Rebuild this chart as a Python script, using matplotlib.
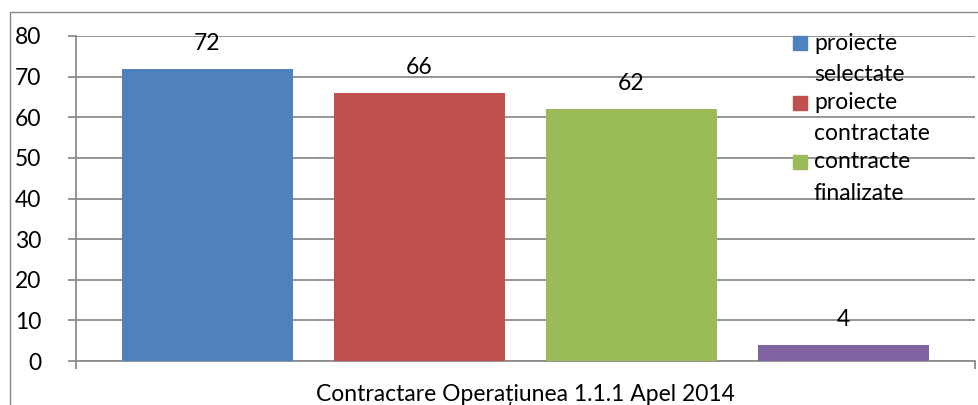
import matplotlib.pyplot as plt

# data
series = ['proiecte\nselectate', 'proiecte\ncontractate', 'contracte\nfinalizate', 'contracte\nin derulare']
values = [72, 66, 62, 4]
colors = ['#4F81BD', '#C0504D', '#9BBB59', '#8064A2']
category = 'Contractare Operațiunea 1.1.1 Apel 2014'

plt.rcParams['font.family'] = ['Lato', 'DejaVu Sans']
FS = 16.5
W, H = 979, 405

fig = plt.figure(figsize=(W / 100, H / 100), dpi=100)
ax = fig.add_axes([76 / W, 1 - 361 / H, (975 - 76) / W, (361 - 36) / H])

# outer border of the chart
fig.patches.append(plt.Rectangle((10 / W, -0.1), 1.2, 1 - 12 / H + 0.1,
                                 transform=fig.transFigure, fill=False,
                                 edgecolor='#888888', linewidth=1))

x = list(range(len(values)))
width = 0.807
ax.bar(x, values, width=width, color=colors, zorder=3)
for xi, v in zip(x, values):
    ax.text(xi, v + 6.2, str(v), ha='center', va='center', fontsize=FS, zorder=4)

ax.set_xlim(-0.62, 3.62)
ax.set_ylim(0, 80)
ax.set_yticks(range(0, 81, 10))
ax.yaxis.grid(True, color='#8C8C8C', linewidth=1.3, zorder=0)
ax.tick_params(axis='y', length=6, color='#8C8C8C', width=1.3, labelsize=FS, pad=19)
ax.set_xticks([-0.62, 3.62])
ax.set_xticklabels(['', ''])
ax.tick_params(axis='x', length=6, color='#8C8C8C', width=1.3)
for s in ['top', 'right']:
    ax.spines[s].set_visible(False)
for s in ['left', 'bottom']:
    ax.spines[s].set_color('#8C8C8C')
    ax.spines[s].set_linewidth(1.3)
ax.set_xlabel(category, fontsize=FS, labelpad=7)

# legend drawn by hand: square beside the first line of each label
# (only the first three entries fit in the original)
for i, (lab, c) in enumerate(zip(series[:3], colors[:3])):
    yc = 43 + i * 59.5
    fig.patches.append(plt.Rectangle((793 / W, 1 - (yc + 7) / H), 14 / W, 14 / H,
                                     transform=fig.transFigure, color=c))
    line1, line2 = lab.split('\n')
    fig.text(814 / W, 1 - yc / H, line1, fontsize=FS, va='center')
    fig.text(814 / W, 1 - (yc + 31.5) / H, line2, fontsize=FS, va='center')

fig.savefig('out.png', dpi=100)
